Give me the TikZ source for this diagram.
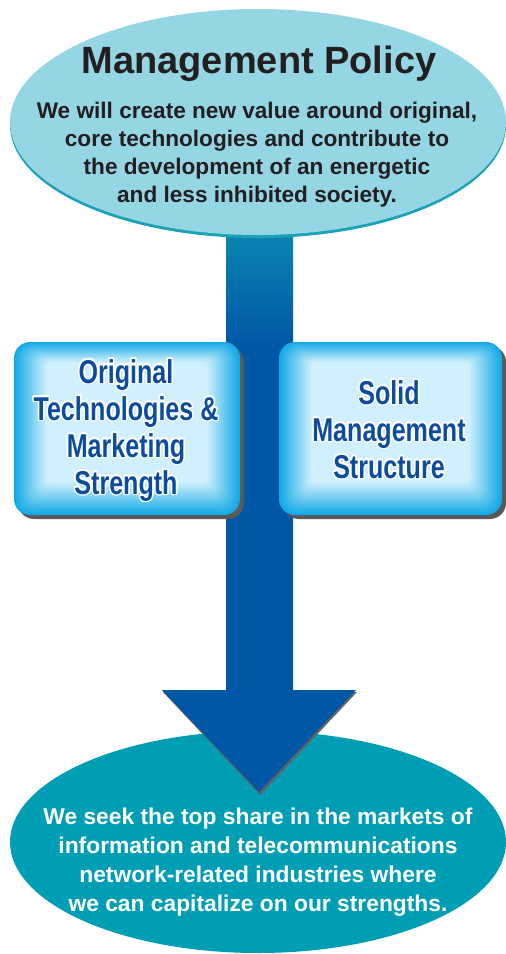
\documentclass[tikz,border=0pt]{standalone}
\usepackage{fontspec}
\setmainfont{Liberation Sans}
\newfontfamily\condfont[FakeStretch=0.76]{Liberation Sans}
\usepackage{contour}
\contourlength{1.6pt}
\contournumber{10}
\usetikzlibrary{shapes.geometric}

\definecolor{polfill}{HTML}{94D6E3}
\definecolor{polrim}{HTML}{1CA2B6}
\definecolor{goalfill}{HTML}{009EB5}
\definecolor{shaftblue}{HTML}{0057A5}
\definecolor{shafttop}{HTML}{0A88B2}
\definecolor{boxcyan}{HTML}{14A9E6}
\definecolor{boxglow}{HTML}{CFF0FC}
\definecolor{boxtext}{HTML}{0C4C9E}
\definecolor{inkblack}{HTML}{231F20}

% Saeule mit Schatten und weichem Leuchten innen
\newcommand{\pillarbox}[4]{%
	\fill[pillarshadow] (#1+4,#2+4) rectangle (#3+4,#4+4);
	\foreach \i in {0,...,20}{
		\pgfmathsetmacro{\tint}{\i*100/20}
		\pgfmathsetmacro{\rad}{max(16-\i*0.6,5)}
		\fill[boxglow!\tint!boxcyan, rounded corners=\rad pt] (#1+\i*1.6,#2+\i*1.0) rectangle (#3-\i*1.6,#4-\i*1.6);
	}
}

\begin{document}
\begin{tikzpicture}[x=1pt, y=-1pt,
	policytext/.style={align=center, text=inkblack, font=\bfseries\fontsize{22.6}{28}\selectfont},
	goaltext/.style={align=center, text=white, font=\bfseries\fontsize{22.8}{29}\selectfont},
	pillartext/.style={align=center, text=boxtext, font=\condfont\bfseries\fontsize{33}{37}\selectfont},
	pillarshadow/.style={fill=black!65, rounded corners=16pt}]
	\useasboundingbox (0,0) rectangle (506,954);

	% Ziel unten
	\node (goal) [ellipse, fill=goalfill, minimum width=496pt, minimum height=222pt, inner sep=0pt] at (258,842) {};

	% Pfeil: Schaft + Spitze
	\fill[black!62] (163,692) -- (260,795) -- (357,692) -- cycle;	% Schatten der Spitze
	\shade[top color=shafttop, bottom color=shaftblue] (226,225) rectangle (293,345);
	\fill[shaftblue] (226,344) -- (226,690) -- (162,690) -- (259,792) -- (356,690) -- (293,690) -- (293,344) -- cycle;

	% Leitbild oben
	\node (rim) [ellipse, fill=polrim, minimum width=496pt, minimum height=226pt, inner sep=0pt] at (258,125) {};
	\node (pol) [ellipse, fill=polfill, minimum width=496pt, minimum height=226pt, inner sep=0pt] at (258,122) {};
	\node (poltitle) [text=inkblack, font=\bfseries\fontsize{38}{40}\selectfont] at (259,64) {Management Policy};
	\node (polbody) [policytext] at (257,155) {We will create new value around original,\\
		core technologies and contribute to\\
		the development of an energetic\\
		and less inhibited society.};

	% zwei Saeulen
	\pillarbox{14}{342}{240}{515}
	\pillarbox{279}{342}{502}{515}
	\node (tech) [pillartext] at (126,431) {\contour{white}{Original}\\
		\contour{white}{Technologies \&}\\
		\contour{white}{Marketing}\\
		\contour{white}{Strength}};
	\node (mgmt) [pillartext] at (389,430) {\contour{white}{Solid}\\
		\contour{white}{Management}\\
		\contour{white}{Structure}};

	\node (goalbody) [goaltext] at (258,862) {We seek the top share in the markets of\\
		information and telecommunications\\
		network-related industries where\\
		we can capitalize on our strengths.};
\end{tikzpicture}
\end{document}
